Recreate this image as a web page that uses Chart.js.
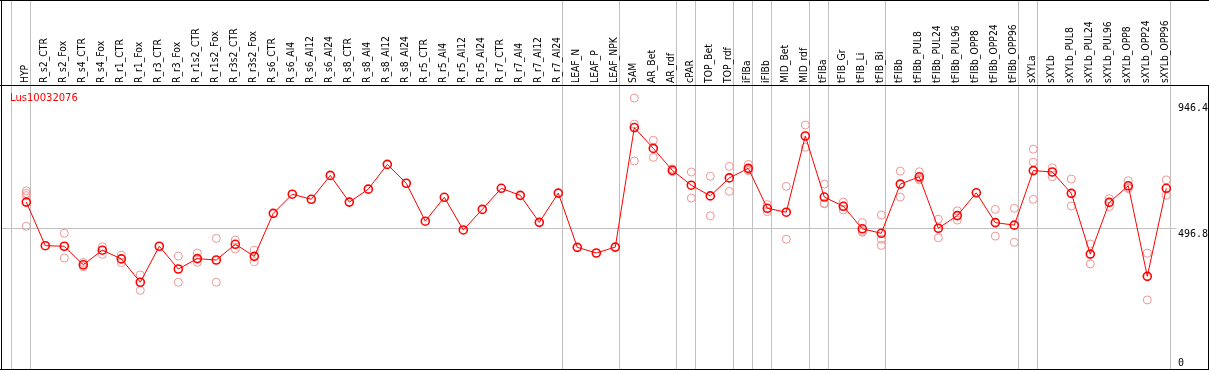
<!DOCTYPE html>
<html>
<head>
<meta charset="utf-8">
<script src="https://cdn.jsdelivr.net/npm/chart.js@4"></script>
<style>
  html, body { margin: 0; padding: 0; background: #fff; }
  canvas { display: block; }
</style>
</head>
<body>
<canvas id="chart" width="1209" height="370"></canvas>
<script>
const geneId = 'Lus10032076';

const categories = [
  'HYP', 'R_s2_CTR', 'R_s2_Fox', 'R_s4_CTR', 'R_s4_Fox', 'R_r1_CTR', 'R_r1_Fox', 'R_r3_CTR', 'R_r3_Fox', 'R_r1s2_CTR',
  'R_r1s2_Fox', 'R_r3s2_CTR', 'R_r3s2_Fox', 'R_s6_CTR', 'R_s6_Al4', 'R_s6_Al12', 'R_s6_Al24', 'R_s8_CTR', 'R_s8_Al4', 'R_s8_Al12',
  'R_s8_Al24', 'R_r5_CTR', 'R_r5_Al4', 'R_r5_Al12', 'R_r5_Al24', 'R_r7_CTR', 'R_r7_Al4', 'R_r7_Al12', 'R_r7_Al24', 'LEAF_N',
  'LEAF_P', 'LEAF_NPK', 'SAM', 'AR_Bet', 'AR_rdf', 'cPAR', 'TOP_Bet', 'TOP_rdf', 'iFIBa', 'iFIBb',
  'MID_Bet', 'MID_rdf', 'tFIBa', 'tFIB_Gr', 'tFIB_Li', 'tFIB_Bi', 'tFIBb', 'tFIBb_PUL8', 'tFIBb_PUL24', 'tFIBb_PUL96',
  'tFIBb_OPP8', 'tFIBb_OPP24', 'tFIBb_OPP96', 'sXYLa', 'sXYLb', 'sXYLb_PUL8', 'sXYLb_PUL24', 'sXYLb_PUL96', 'sXYLb_OPP8', 'sXYLb_OPP24',
  'sXYLb_OPP96'
];

// mean expression per sample
const meanValues = [
  590, 435, 433, 367, 419, 388, 305, 433, 352, 389,
  384, 440, 397, 550, 618, 600, 685, 590, 636, 724,
  657, 522, 607, 491, 564, 639, 614, 518, 622, 429,
  409, 430, 855, 781, 703, 650, 612, 676, 710, 568,
  554, 825, 608, 575, 495, 479, 654, 680, 497, 542,
  623, 517, 508, 702, 697, 621, 405, 589, 648, 326,
  639
];

// replicates (null = no replicate)
const rep1 = [
  630, null, 479, 375, 431, 401, 331, null, 398, 409,
  461, 455, 419, null, null, null, null, null, null, null,
  null, null, null, null, null, null, null, null, null, null,
  null, null, 960, 810, 698, 697, 682, 717, 724, 581,
  646, 864, 654, 590, 517, 544, 700, 698, 529, 559,
  null, 564, 568, 778, 712, 672, 441, 602, 666, 408,
  669
];
const rep2 = [
  621, null, 391, 360, 404, 375, 276, null, 305, 376,
  305, 423, 378, null, null, null, null, null, null, null,
  null, null, null, null, null, null, null, null, null, null,
  null, null, 867, 749, 708, 604, 541, 628, 702, 556,
  458, 785, 586, 562, 483, 458, 608, 669, 463, 526,
  null, 469, 447, 732, 680, 576, 370, 574, 638, 242,
  614
];
const rep3 = [
  613, null, null, null, null, null, null, null, null, null,
  null, null, null, null, null, null, null, null, null, null,
  null, null, null, null, null, null, null, null, null, null,
  null, null, 736, null, null, null, null, null, 705, null,
  null, null, 584, null, 486, 436, null, 674, null, null,
  null, null, null, 600, null, null, null, null, 641, null,
  null
];
const rep4 = [
  504, null, null, null, null, null, null, null, null, null,
  null, null, null, null, null, null, null, null, null, null,
  null, null, null, null, null, null, null, null, null, null,
  null, null, null, null, null, null, null, null, null, null,
  null, null, null, null, null, null, null, null, null, null,
  null, null, null, null, null, null, null, null, null, null,
  null
];

// y axis labels and the sample groups that end with a separator line
const yTicks = [0, 496.8, 946.4];
const groupEnds = [-1, 0, 28, 31, 34, 35, 37, 38, 39, 41, 42, 45, 52, 53, 60];

const toPoints = arr => arr.map((v, i) => ({ x: i, y: v }));

const repColor = 'rgb(240,150,150)';
const repDataset = arr => ({
  data: toPoints(arr),
  showLine: false,
  pointStyle: 'circle',
  pointRadius: 4,
  pointBorderWidth: 1,
  pointBorderColor: repColor,
  pointBackgroundColor: 'rgba(0,0,0,0)'
});

const framePlugin = {
  id: 'frame',
  beforeDraw(chart) {
    const ctx = chart.ctx;
    ctx.save();
    ctx.fillStyle = '#fff';
    ctx.fillRect(0, 0, chart.width, chart.height);
    ctx.restore();
  },
  beforeDatasetsDraw(chart) {
    const ctx = chart.ctx;
    const xs = chart.scales.x, ys = chart.scales.y;
    const a = chart.chartArea;
    ctx.save();
    // group separators
    ctx.fillStyle = '#c0c0c0';
    groupEnds.forEach(i => {
      const x = Math.round(xs.getPixelForValue(i) + 3.6);
      ctx.fillRect(x, 0, 1, a.bottom);
    });
    // middle reference line
    yTicks.slice(1, -1).forEach(v => {
      const y = Math.round(ys.getPixelForValue(v));
      ctx.fillRect(a.left, y, 1176 - a.left, 1);
    });
    // frame
    ctx.fillStyle = '#000';
    ctx.fillRect(0, 0, chart.width, 1);
    ctx.fillRect(0, a.top, chart.width, 1);
    ctx.fillRect(0, a.bottom, chart.width, 1);
    ctx.fillRect(1, 0, 1, a.bottom);
    ctx.fillRect(chart.width - 1, a.top, 1, a.bottom - a.top);

    // sample labels, rotated
    ctx.fillStyle = '#000';
    ctx.font = '11px "DejaVu Sans"';
    ctx.textAlign = 'left';
    ctx.textBaseline = 'alphabetic';
    categories.forEach((c, i) => {
      const x = xs.getPixelForValue(i);
      ctx.save();
      ctx.translate(Math.round(x + 2), a.top - 2);
      ctx.rotate(-Math.PI / 2);
      ctx.scale(0.84, 1);
      ctx.fillText(c, 0, 0);
      ctx.restore();
    });

    // gene id
    ctx.fillStyle = '#ff0000';
    ctx.font = '10px "DejaVu Sans"';
    ctx.fillText(geneId, 10, 101);

    // y tick labels on the right
    ctx.fillStyle = '#000';
    ctx.font = '10px "DejaVu Sans Mono"';
    ctx.textAlign = 'left';
    yTicks.forEach((v, k) => {
      const y = ys.getPixelForValue(v);
      ctx.fillText(String(v), 1178, k === 0 ? y - 2 : y + 9);
    });
    ctx.restore();
  }
};

new Chart(document.getElementById('chart'), {
  type: 'line',
  data: {
    datasets: [
      {
        data: toPoints(meanValues),
        borderColor: '#ff0000',
        borderWidth: 1,
        pointStyle: 'circle',
        pointRadius: 4,
        pointBorderWidth: 1.6,
        pointBorderColor: '#ff0000',
        pointBackgroundColor: 'rgba(0,0,0,0)',
        tension: 0
      },
      repDataset(rep1),
      repDataset(rep2),
      repDataset(rep3),
      repDataset(rep4)
    ]
  },
  options: {
    responsive: false,
    animation: false,
    devicePixelRatio: 1,
    layout: { autoPadding: false, padding: { left: 1, top: 85, right: 1, bottom: 1 } },
    plugins: { legend: { display: false }, tooltip: { enabled: false } },
    scales: {
      x: { type: 'linear', display: false, min: -1.3316, max: 62.1947 },
      y: { type: 'linear', display: false, min: -3.56, max: 1006.4 }
    }
  },
  plugins: [framePlugin]
});
</script>
</body>
</html>
